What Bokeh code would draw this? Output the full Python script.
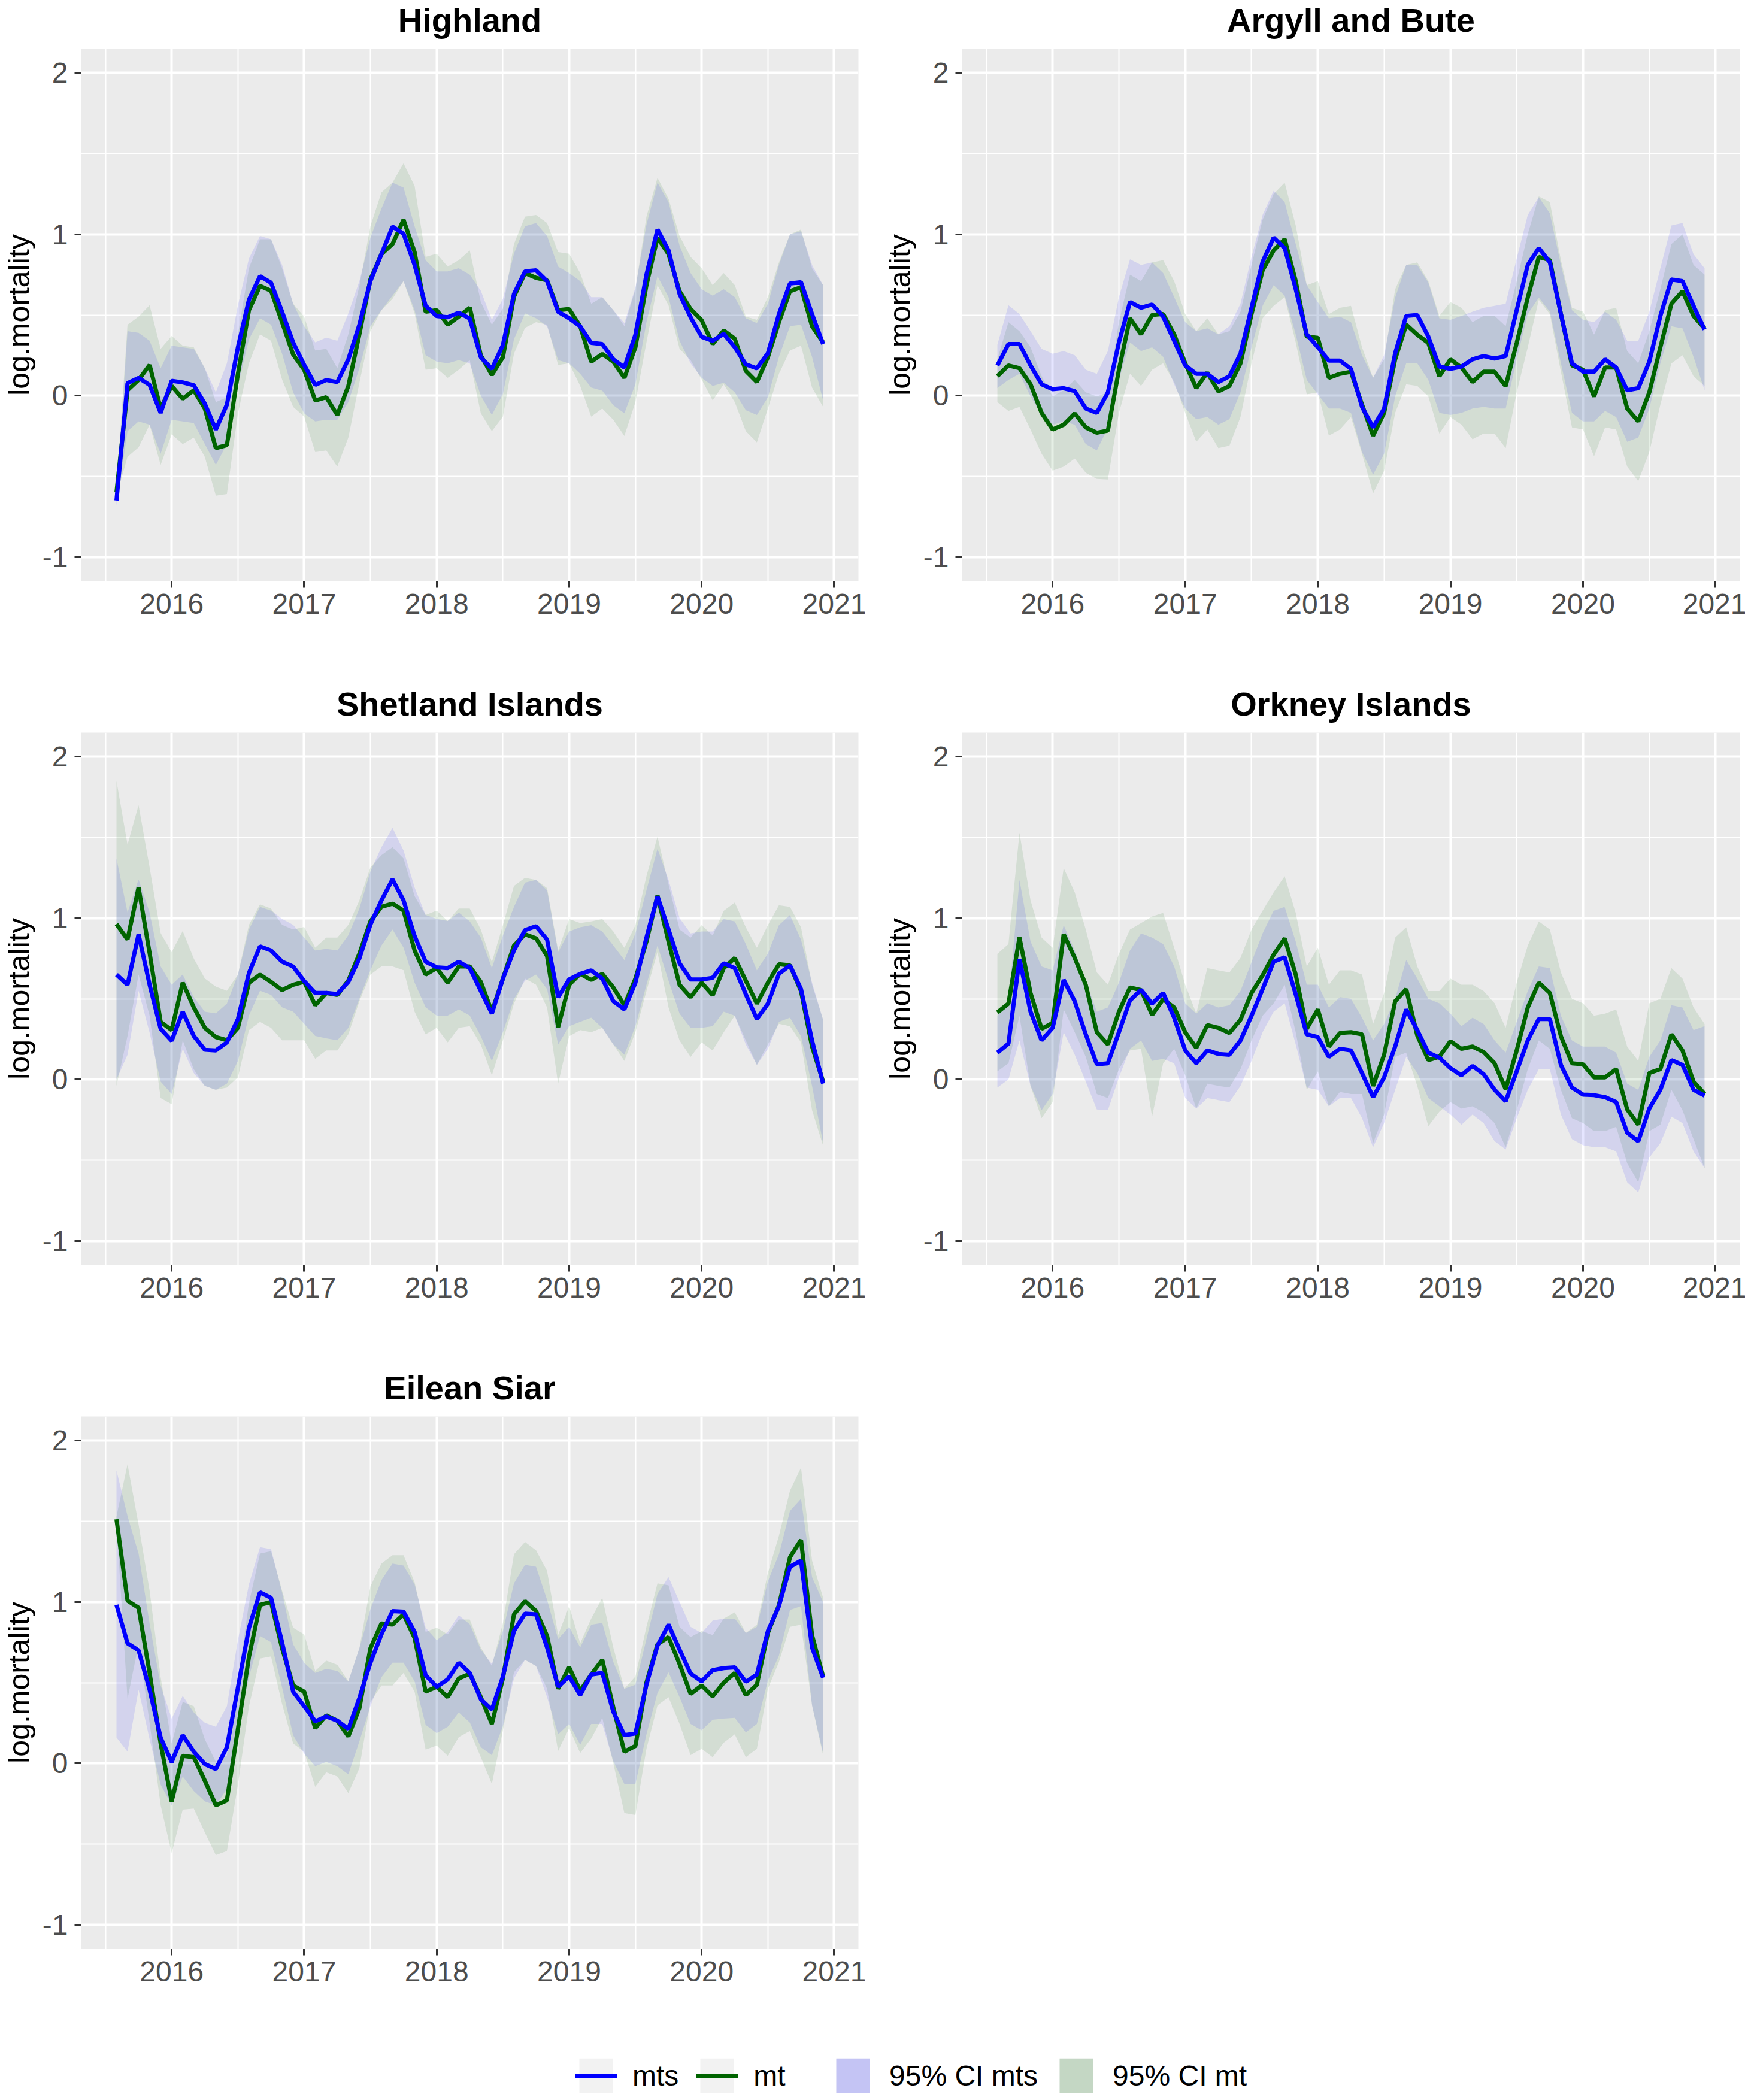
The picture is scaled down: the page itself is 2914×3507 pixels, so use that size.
from bokeh.plotting import figure
from bokeh.models import Range1d, FixedTicker, Legend, LegendItem, ColumnDataSource, Spacer
from bokeh.core.properties import value
from bokeh.layouts import row, column
from bokeh.embed import file_html
from bokeh.resources import INLINE

FONT = "Liberation Sans"

# ---------------- data (monthly, Aug 2015 .. Dec 2020) ----------------
months = ["%d-%02d" % (2015 + (7 + k) // 12, (7 + k) % 12 + 1) for k in range(65)]
x_years = [int(m[:4]) + (int(m[5:]) - 1) / 12.0 for m in months]

regions = ["Highland", "Argyll and Bute", "Shetland Islands", "Orkney Islands", "Eilean Siar"]

highland_mts = [-0.65, 0.077, 0.11, 0.066, -0.107, 0.092, 0.082, 0.064, -0.05, -0.21, -0.056, 0.30, 0.595, 0.74, 0.70, 0.52, 0.33, 0.19, 0.066, 0.097, 0.084, 0.225, 0.44, 0.71, 0.877, 1.048, 1.004, 0.81, 0.557, 0.493, 0.486, 0.514, 0.478, 0.238, 0.166, 0.314, 0.63, 0.77, 0.777, 0.71, 0.52, 0.48, 0.43, 0.327, 0.32, 0.225, 0.174, 0.378, 0.75, 1.03, 0.90, 0.63, 0.486, 0.365, 0.34, 0.383, 0.30, 0.194, 0.169, 0.263, 0.506, 0.695, 0.703, 0.506, 0.32]
highland_mt = [-0.60, 0.033, 0.097, 0.19, -0.08, 0.06, -0.02, 0.033, -0.08, -0.325, -0.307, 0.135, 0.53, 0.68, 0.65, 0.455, 0.255, 0.16, -0.03, -0.01, -0.12, 0.06, 0.38, 0.72, 0.877, 0.94, 1.09, 0.89, 0.52, 0.53, 0.44, 0.49, 0.545, 0.25, 0.128, 0.238, 0.613, 0.76, 0.73, 0.715, 0.53, 0.537, 0.43, 0.21, 0.258, 0.21, 0.11, 0.30, 0.685, 0.98, 0.877, 0.647, 0.537, 0.468, 0.32, 0.404, 0.353, 0.153, 0.084, 0.238, 0.455, 0.647, 0.672, 0.43, 0.33]
highland_mts_hi = [-0.62, 0.40, 0.39, 0.34, 0.17, 0.31, 0.30, 0.29, 0.17, 0.02, 0.20, 0.56, 0.85, 0.99, 0.97, 0.81, 0.57, 0.43, 0.33, 0.36, 0.34, 0.51, 0.71, 0.98, 1.16, 1.32, 1.29, 1.05, 0.84, 0.77, 0.77, 0.79, 0.75, 0.65, 0.47, 0.60, 0.88, 1.05, 1.07, 0.99, 0.80, 0.76, 0.71, 0.61, 0.61, 0.53, 0.45, 0.67, 1.06, 1.32, 1.20, 0.93, 0.76, 0.66, 0.62, 0.66, 0.61, 0.48, 0.45, 0.57, 0.81, 1.00, 1.02, 0.81, 0.685]
highland_mts_lo = [-0.68, -0.22, -0.16, -0.18, -0.36, -0.15, -0.16, -0.17, -0.30, -0.43, -0.30, 0.06, 0.35, 0.48, 0.44, 0.26, 0.02, -0.11, -0.16, -0.15, -0.15, -0.04, 0.17, 0.43, 0.53, 0.62, 0.71, 0.53, 0.25, 0.21, 0.20, 0.22, 0.20, 0.0, -0.12, 0.01, 0.35, 0.51, 0.48, 0.43, 0.22, 0.20, 0.135, 0.05, 0.03, -0.06, -0.11, 0.07, 0.455, 0.74, 0.61, 0.34, 0.20, 0.11, 0.06, 0.08, 0.02, -0.09, -0.12, -0.01, 0.24, 0.43, 0.44, 0.24, -0.03]
highland_mt_hi = [-0.58, 0.44, 0.49, 0.56, 0.29, 0.37, 0.31, 0.30, 0.17, -0.04, -0.01, 0.38, 0.79, 0.97, 0.97, 0.79, 0.57, 0.49, 0.28, 0.29, 0.17, 0.38, 0.68, 1.05, 1.26, 1.32, 1.44, 1.30, 0.86, 0.88, 0.80, 0.84, 0.90, 0.58, 0.44, 0.54, 0.94, 1.11, 1.12, 1.07, 0.89, 0.88, 0.76, 0.57, 0.61, 0.53, 0.43, 0.66, 1.11, 1.35, 1.22, 0.99, 0.86, 0.79, 0.685, 0.76, 0.685, 0.49, 0.47, 0.61, 0.825, 1.00, 1.03, 0.79, 0.685]
highland_mt_lo = [-0.62, -0.38, -0.32, -0.18, -0.43, -0.24, -0.30, -0.26, -0.38, -0.62, -0.61, -0.11, 0.20, 0.38, 0.34, 0.10, -0.07, -0.13, -0.35, -0.34, -0.44, -0.26, 0.08, 0.40, 0.53, 0.60, 0.71, 0.51, 0.16, 0.17, 0.11, 0.16, 0.22, -0.11, -0.22, -0.13, 0.26, 0.42, 0.455, 0.44, 0.19, 0.20, 0.06, -0.13, -0.08, -0.15, -0.25, -0.04, 0.33, 0.685, 0.56, 0.29, 0.22, 0.10, -0.03, 0.07, -0.04, -0.22, -0.29, -0.08, 0.135, 0.28, 0.31, 0.05, -0.07]

argyll_mts = [0.187, 0.32, 0.32, 0.187, 0.07, 0.04, 0.046, 0.028, -0.08, -0.107, 0.02, 0.33, 0.58, 0.545, 0.565, 0.49, 0.34, 0.187, 0.135, 0.135, 0.084, 0.12, 0.26, 0.545, 0.83, 0.98, 0.915, 0.66, 0.38, 0.30, 0.217, 0.217, 0.166, -0.07, -0.197, -0.08, 0.263, 0.494, 0.50, 0.366, 0.18, 0.166, 0.18, 0.225, 0.245, 0.23, 0.245, 0.53, 0.81, 0.915, 0.826, 0.506, 0.20, 0.148, 0.148, 0.225, 0.174, 0.033, 0.046, 0.21, 0.494, 0.72, 0.71, 0.557, 0.41]
argyll_mt = [0.12, 0.187, 0.17, 0.07, -0.107, -0.21, -0.18, -0.11, -0.197, -0.23, -0.217, 0.16, 0.48, 0.38, 0.50, 0.506, 0.38, 0.20, 0.046, 0.143, 0.026, 0.06, 0.20, 0.506, 0.775, 0.90, 0.97, 0.71, 0.366, 0.358, 0.11, 0.135, 0.148, -0.056, -0.248, -0.107, 0.225, 0.44, 0.378, 0.327, 0.12, 0.225, 0.174, 0.084, 0.148, 0.148, 0.059, 0.327, 0.608, 0.86, 0.84, 0.506, 0.187, 0.16, -0.005, 0.174, 0.174, -0.08, -0.16, 0.02, 0.30, 0.57, 0.647, 0.494, 0.417]
argyll_mts_hi = [0.315, 0.56, 0.506, 0.40, 0.29, 0.26, 0.276, 0.25, 0.16, 0.135, 0.276, 0.61, 0.845, 0.81, 0.826, 0.76, 0.61, 0.455, 0.40, 0.417, 0.38, 0.43, 0.57, 0.86, 1.12, 1.27, 1.20, 0.94, 0.685, 0.58, 0.48, 0.49, 0.455, 0.25, 0.11, 0.25, 0.608, 0.81, 0.81, 0.70, 0.48, 0.47, 0.494, 0.52, 0.545, 0.557, 0.57, 0.85, 1.12, 1.23, 1.13, 0.81, 0.53, 0.47, 0.455, 0.52, 0.47, 0.34, 0.34, 0.52, 0.79, 1.055, 1.07, 0.877, 0.79]
argyll_mts_lo = [0.046, 0.097, 0.135, -0.005, -0.12, -0.18, -0.16, -0.18, -0.30, -0.34, -0.20, 0.097, 0.33, 0.276, 0.30, 0.24, 0.07, -0.08, -0.146, -0.133, -0.18, -0.146, 0.02, 0.30, 0.557, 0.685, 0.62, 0.38, 0.097, 0.008, -0.08, -0.08, -0.107, -0.35, -0.49, -0.36, -0.005, 0.20, 0.20, 0.097, -0.107, -0.12, -0.107, -0.08, -0.07, -0.08, -0.08, 0.225, 0.506, 0.608, 0.52, 0.20, -0.107, -0.16, -0.16, -0.095, -0.133, -0.286, -0.26, -0.08, 0.20, 0.43, 0.417, 0.24, 0.033]
argyll_mt_hi = [0.225, 0.455, 0.40, 0.30, 0.12, -0.005, 0.033, 0.097, 0.02, -0.005, 0.02, 0.455, 0.75, 0.71, 0.826, 0.84, 0.71, 0.506, 0.40, 0.48, 0.38, 0.40, 0.52, 0.81, 1.09, 1.25, 1.32, 1.055, 0.685, 0.71, 0.506, 0.545, 0.557, 0.30, 0.11, 0.225, 0.66, 0.81, 0.826, 0.71, 0.494, 0.58, 0.545, 0.455, 0.494, 0.494, 0.43, 0.71, 1.00, 1.235, 1.20, 0.84, 0.545, 0.52, 0.378, 0.53, 0.545, 0.276, 0.20, 0.40, 0.66, 0.94, 1.00, 0.81, 0.75]
argyll_mt_lo = [-0.04, -0.095, -0.07, -0.21, -0.36, -0.465, -0.44, -0.39, -0.478, -0.516, -0.52, -0.107, 0.135, 0.06, 0.16, 0.20, 0.084, -0.107, -0.286, -0.21, -0.325, -0.31, -0.133, 0.20, 0.48, 0.557, 0.61, 0.33, 0.008, 0.02, -0.248, -0.21, -0.133, -0.36, -0.606, -0.465, -0.107, 0.07, 0.06, -0.005, -0.235, -0.133, -0.18, -0.27, -0.235, -0.235, -0.325, 0.02, 0.30, 0.595, 0.506, 0.148, -0.197, -0.21, -0.376, -0.197, -0.21, -0.44, -0.53, -0.35, -0.056, 0.20, 0.25, 0.12, 0.06]

shetland_mts = [0.65, 0.587, 0.90, 0.587, 0.314, 0.24, 0.42, 0.27, 0.184, 0.18, 0.23, 0.375, 0.66, 0.825, 0.80, 0.73, 0.70, 0.61, 0.536, 0.536, 0.53, 0.605, 0.75, 0.96, 1.11, 1.24, 1.11, 0.89, 0.73, 0.695, 0.69, 0.73, 0.69, 0.548, 0.408, 0.625, 0.80, 0.926, 0.95, 0.867, 0.51, 0.62, 0.655, 0.676, 0.625, 0.485, 0.434, 0.60, 0.88, 1.135, 0.93, 0.72, 0.62, 0.62, 0.63, 0.72, 0.69, 0.528, 0.375, 0.47, 0.655, 0.707, 0.56, 0.242, -0.026]
shetland_mt = [0.963, 0.868, 1.19, 0.784, 0.357, 0.306, 0.60, 0.447, 0.32, 0.263, 0.243, 0.32, 0.60, 0.65, 0.605, 0.554, 0.587, 0.605, 0.46, 0.536, 0.524, 0.613, 0.78, 0.98, 1.07, 1.09, 1.047, 0.80, 0.65, 0.69, 0.60, 0.70, 0.70, 0.605, 0.42, 0.625, 0.83, 0.90, 0.875, 0.765, 0.324, 0.587, 0.655, 0.617, 0.655, 0.57, 0.46, 0.625, 0.855, 1.14, 0.855, 0.587, 0.51, 0.60, 0.523, 0.69, 0.753, 0.612, 0.47, 0.60, 0.714, 0.707, 0.548, 0.204, -0.013]
shetland_mts_hi = [1.37, 1.035, 1.24, 1.035, 0.70, 0.587, 0.65, 0.51, 0.42, 0.41, 0.47, 0.65, 0.93, 1.07, 1.047, 0.996, 0.958, 0.88, 0.80, 0.81, 0.80, 0.894, 1.06, 1.29, 1.44, 1.56, 1.42, 1.19, 1.02, 0.996, 0.983, 1.035, 0.98, 0.88, 0.69, 0.893, 1.07, 1.22, 1.237, 1.173, 0.79, 0.918, 0.944, 0.957, 0.918, 0.83, 0.74, 0.906, 1.173, 1.43, 1.237, 1.00, 0.906, 0.918, 0.918, 0.995, 0.98, 0.84, 0.676, 0.78, 0.957, 1.02, 0.867, 0.60, 0.37]
shetland_mts_lo = [0.0, 0.153, 0.55, 0.29, -0.013, -0.09, 0.19, 0.04, -0.04, -0.064, -0.026, 0.115, 0.396, 0.55, 0.524, 0.447, 0.42, 0.345, 0.27, 0.255, 0.243, 0.32, 0.50, 0.677, 0.83, 0.93, 0.817, 0.60, 0.447, 0.396, 0.396, 0.434, 0.396, 0.268, 0.115, 0.293, 0.497, 0.612, 0.65, 0.56, 0.217, 0.33, 0.357, 0.383, 0.32, 0.217, 0.153, 0.33, 0.587, 0.83, 0.612, 0.408, 0.32, 0.32, 0.33, 0.42, 0.395, 0.217, 0.09, 0.19, 0.357, 0.383, 0.268, -0.04, -0.395]
shetland_mt_hi = [1.85, 1.456, 1.70, 1.315, 0.907, 0.79, 0.92, 0.75, 0.626, 0.575, 0.55, 0.65, 0.958, 1.086, 1.06, 0.958, 0.93, 0.945, 0.817, 0.88, 0.88, 0.958, 1.11, 1.315, 1.39, 1.44, 1.37, 1.137, 1.02, 1.047, 0.983, 1.06, 1.06, 0.93, 0.727, 0.957, 1.20, 1.25, 1.237, 1.186, 0.80, 0.995, 0.97, 0.98, 0.995, 0.918, 0.816, 0.957, 1.26, 1.505, 1.21, 0.93, 0.88, 0.957, 0.893, 1.046, 1.097, 0.944, 0.816, 0.957, 1.08, 1.07, 0.944, 0.587, 0.37]
shetland_mt_lo = [-0.04, 0.27, 0.65, 0.396, -0.115, -0.153, 0.243, 0.064, -0.04, -0.064, -0.05, 0.013, 0.306, 0.357, 0.32, 0.243, 0.243, 0.243, 0.128, 0.18, 0.18, 0.28, 0.485, 0.65, 0.70, 0.70, 0.677, 0.42, 0.28, 0.32, 0.23, 0.32, 0.33, 0.217, 0.026, 0.242, 0.47, 0.625, 0.587, 0.446, -0.026, 0.268, 0.306, 0.293, 0.32, 0.217, 0.115, 0.293, 0.548, 0.79, 0.446, 0.242, 0.14, 0.23, 0.18, 0.293, 0.395, 0.242, 0.09, 0.217, 0.345, 0.33, 0.23, -0.19, -0.41]

orkney_mts = [0.166, 0.222, 0.745, 0.42, 0.242, 0.32, 0.617, 0.485, 0.28, 0.094, 0.10, 0.293, 0.49, 0.556, 0.47, 0.536, 0.383, 0.18, 0.10, 0.18, 0.158, 0.153, 0.242, 0.395, 0.56, 0.73, 0.757, 0.528, 0.28, 0.263, 0.14, 0.19, 0.18, 0.04, -0.11, 0.013, 0.204, 0.434, 0.306, 0.166, 0.135, 0.07, 0.026, 0.084, 0.033, -0.064, -0.135, 0.05, 0.242, 0.375, 0.375, 0.09, -0.05, -0.094, -0.097, -0.11, -0.14, -0.33, -0.383, -0.18, -0.064, 0.12, 0.09, -0.064, -0.10]
orkney_mt = [0.416, 0.47, 0.88, 0.536, 0.314, 0.35, 0.90, 0.753, 0.587, 0.293, 0.217, 0.42, 0.57, 0.554, 0.40, 0.497, 0.446, 0.293, 0.196, 0.337, 0.32, 0.288, 0.37, 0.536, 0.645, 0.773, 0.875, 0.65, 0.314, 0.434, 0.204, 0.288, 0.293, 0.28, -0.04, 0.153, 0.485, 0.56, 0.273, 0.12, 0.14, 0.237, 0.19, 0.204, 0.17, 0.10, -0.06, 0.18, 0.446, 0.60, 0.536, 0.268, 0.10, 0.094, 0.013, 0.013, 0.064, -0.186, -0.28, 0.04, 0.064, 0.28, 0.18, -0.013, -0.09]
orkney_mts_hi = [0.395, 0.472, 1.237, 0.855, 0.70, 0.676, 0.957, 0.80, 0.612, 0.42, 0.446, 0.60, 0.80, 0.906, 0.88, 0.84, 0.70, 0.472, 0.408, 0.472, 0.446, 0.46, 0.548, 0.727, 0.906, 1.046, 1.07, 0.855, 0.587, 0.587, 0.446, 0.51, 0.50, 0.383, 0.242, 0.344, 0.50, 0.74, 0.625, 0.50, 0.472, 0.408, 0.33, 0.383, 0.344, 0.242, 0.166, 0.357, 0.548, 0.70, 0.69, 0.395, 0.242, 0.204, 0.204, 0.204, 0.166, -0.026, -0.064, 0.14, 0.242, 0.46, 0.446, 0.306, 0.33]
orkney_mts_lo = [-0.05, 0.0, 0.242, -0.04, -0.19, -0.09, 0.293, 0.153, -0.013, -0.186, -0.19, 0.013, 0.19, 0.242, 0.115, 0.128, 0.10, -0.115, -0.18, -0.115, -0.128, -0.14, -0.04, 0.115, 0.293, 0.42, 0.472, 0.217, -0.05, -0.064, -0.166, -0.115, -0.115, -0.24, -0.42, -0.27, -0.064, 0.14, 0.04, -0.115, -0.166, -0.217, -0.28, -0.217, -0.27, -0.383, -0.434, -0.24, -0.064, 0.064, 0.064, -0.217, -0.37, -0.408, -0.42, -0.42, -0.446, -0.638, -0.70, -0.485, -0.395, -0.23, -0.27, -0.446, -0.55]
orkney_mt_hi = [0.778, 0.84, 1.53, 1.11, 0.88, 0.816, 1.31, 1.16, 0.93, 0.663, 0.587, 0.778, 0.93, 0.97, 1.01, 1.033, 0.816, 0.587, 0.408, 0.69, 0.676, 0.663, 0.753, 0.93, 1.046, 1.16, 1.26, 1.033, 0.70, 0.816, 0.587, 0.676, 0.676, 0.65, 0.344, 0.536, 0.88, 0.944, 0.70, 0.548, 0.548, 0.625, 0.587, 0.587, 0.548, 0.472, 0.32, 0.60, 0.83, 0.98, 0.93, 0.663, 0.50, 0.472, 0.395, 0.408, 0.434, 0.204, 0.115, 0.472, 0.50, 0.69, 0.625, 0.446, 0.344]
orkney_mt_lo = [0.05, 0.10, 0.395, -0.04, -0.24, -0.14, 0.434, 0.293, 0.14, -0.09, -0.115, 0.064, 0.18, 0.19, -0.23, 0.10, 0.19, 0.026, -0.18, -0.026, -0.04, -0.05, 0.064, 0.242, 0.395, 0.472, 0.587, 0.293, -0.064, 0.05, -0.166, -0.077, -0.09, -0.09, -0.395, -0.217, 0.14, 0.166, -0.04, -0.29, -0.20, -0.14, -0.18, -0.166, -0.204, -0.27, -0.42, -0.19, 0.064, 0.242, 0.19, -0.064, -0.24, -0.27, -0.32, -0.32, -0.293, -0.52, -0.638, -0.32, -0.28, -0.064, -0.19, -0.37, -0.55]

eilean_mts = [0.982, 0.744, 0.70, 0.456, 0.16, 0.008, 0.174, 0.072, -0.005, -0.036, 0.10, 0.47, 0.84, 1.06, 1.026, 0.75, 0.444, 0.354, 0.26, 0.29, 0.264, 0.213, 0.405, 0.623, 0.80, 0.944, 0.94, 0.815, 0.546, 0.474, 0.52, 0.623, 0.56, 0.397, 0.333, 0.538, 0.82, 0.928, 0.923, 0.718, 0.474, 0.538, 0.423, 0.55, 0.56, 0.32, 0.174, 0.185, 0.487, 0.73, 0.86, 0.705, 0.556, 0.508, 0.577, 0.59, 0.595, 0.505, 0.55, 0.82, 0.974, 1.218, 1.256, 0.718, 0.53]
eilean_mt = [1.513, 1.008, 0.964, 0.56, 0.123, -0.236, 0.046, 0.038, -0.108, -0.26, -0.23, 0.213, 0.66, 0.982, 1.00, 0.713, 0.482, 0.444, 0.218, 0.297, 0.264, 0.167, 0.341, 0.713, 0.867, 0.86, 0.923, 0.777, 0.444, 0.474, 0.41, 0.526, 0.555, 0.41, 0.244, 0.526, 0.923, 1.005, 0.944, 0.79, 0.462, 0.595, 0.449, 0.55, 0.641, 0.346, 0.072, 0.108, 0.50, 0.738, 0.782, 0.615, 0.43, 0.482, 0.415, 0.50, 0.56, 0.423, 0.487, 0.808, 0.98, 1.277, 1.385, 0.795, 0.538]
eilean_mts_hi = [1.815, 1.533, 1.30, 0.867, 0.482, 0.277, 0.418, 0.315, 0.251, 0.226, 0.354, 0.764, 1.11, 1.34, 1.328, 1.06, 0.738, 0.623, 0.56, 0.585, 0.572, 0.508, 0.713, 0.956, 1.136, 1.238, 1.226, 1.11, 0.841, 0.764, 0.815, 0.918, 0.862, 0.705, 0.615, 0.82, 1.115, 1.23, 1.218, 1.013, 0.77, 0.846, 0.718, 0.859, 0.87, 0.628, 0.462, 0.487, 0.77, 1.05, 1.154, 1.00, 0.846, 0.808, 0.885, 0.897, 0.897, 0.808, 0.846, 1.128, 1.295, 1.564, 1.64, 1.154, 1.00]
eilean_mts_lo = [0.16, 0.072, 0.456, 0.149, -0.133, -0.26, -0.082, -0.172, -0.236, -0.26, -0.159, 0.20, 0.533, 0.79, 0.751, 0.47, 0.174, 0.059, -0.018, 0.008, -0.018, -0.069, 0.136, 0.354, 0.533, 0.623, 0.623, 0.508, 0.238, 0.187, 0.226, 0.315, 0.253, 0.10, 0.05, 0.23, 0.526, 0.641, 0.603, 0.41, 0.18, 0.244, 0.115, 0.244, 0.244, 0.013, -0.128, -0.128, 0.18, 0.436, 0.564, 0.41, 0.244, 0.205, 0.27, 0.277, 0.282, 0.192, 0.244, 0.513, 0.667, 0.95, 0.974, 0.359, 0.064]
eilean_mt_hi = [1.53, 1.854, 1.48, 1.07, 0.533, 0.123, 0.38, 0.354, 0.149, 0.008, 0.046, 0.508, 0.995, 1.30, 1.315, 1.07, 0.841, 0.80, 0.572, 0.636, 0.61, 0.508, 0.713, 1.097, 1.238, 1.29, 1.29, 1.123, 0.815, 0.841, 0.80, 0.892, 0.892, 0.718, 0.603, 0.87, 1.295, 1.372, 1.32, 1.192, 0.795, 0.974, 0.744, 0.897, 1.026, 0.718, 0.462, 0.538, 0.846, 1.115, 1.103, 0.846, 0.782, 0.82, 0.795, 0.897, 0.936, 0.808, 0.859, 1.18, 1.41, 1.69, 1.833, 1.256, 1.026]
eilean_mt_lo = [1.49, 0.40, 0.738, 0.251, -0.26, -0.556, -0.287, -0.28, -0.428, -0.569, -0.544, -0.133, 0.354, 0.649, 0.662, 0.367, 0.123, 0.072, -0.146, -0.056, -0.082, -0.185, -0.03, 0.38, 0.482, 0.482, 0.56, 0.444, 0.085, 0.11, 0.046, 0.162, 0.20, 0.038, -0.128, 0.205, 0.564, 0.641, 0.603, 0.462, 0.077, 0.218, 0.064, 0.154, 0.282, 0.0, -0.308, -0.32, 0.09, 0.359, 0.41, 0.244, 0.051, 0.09, 0.038, 0.128, 0.18, 0.038, 0.09, 0.462, 0.628, 0.846, 0.859, 0.359, 0.051]

year_ticks = [2016, 2017, 2018, 2019, 2020, 2021]
year_minor = [2015.5, 2016.5, 2017.5, 2018.5, 2019.5, 2020.5]
y_ticks = [-1, 0, 1, 2]
y_minor = [-0.5, 0.5, 1.5]
y_tick_labels = {-1: "-1", 0: "0", 1: "1", 2: "2"}

series = {
    "Highland": (highland_mts, highland_mt, highland_mts_lo, highland_mts_hi, highland_mt_lo, highland_mt_hi),
    "Argyll and Bute": (argyll_mts, argyll_mt, argyll_mts_lo, argyll_mts_hi, argyll_mt_lo, argyll_mt_hi),
    "Shetland Islands": (shetland_mts, shetland_mt, shetland_mts_lo, shetland_mts_hi, shetland_mt_lo, shetland_mt_hi),
    "Orkney Islands": (orkney_mts, orkney_mt, orkney_mts_lo, orkney_mts_hi, orkney_mt_lo, orkney_mt_hi),
    "Eilean Siar": (eilean_mts, eilean_mt, eilean_mts_lo, eilean_mts_hi, eilean_mt_lo, eilean_mt_hi),
}

BLUE = "#0000FF"
GREEN = "#006400"
LW = 7

xspan = x_years[-1] - x_years[0]
X0, X1 = x_years[0] - 0.05 * xspan, x_years[-1] + 0.05 * xspan
Y0, Y1 = -1 - 0.15, 2 + 0.15

STRIP_H = 81      # title strip: all the space above each panel
COLS = [dict(frame_w=1298, left=132, right=30), dict(frame_w=1299, left=143, right=11)]


def make_title(name, col):
    c = COLS[col]
    t = figure(frame_width=c["frame_w"], frame_height=STRIP_H, min_border_left=c["left"],
               min_border_right=c["right"], min_border_top=0, min_border_bottom=0,
               x_range=Range1d(0, 1), y_range=Range1d(0, 1), x_axis_type=None, y_axis_type=None,
               toolbar_location=None, output_backend="svg", outline_line_color=None)
    t.text(x=[0.5], y=[0.59], text=[name], text_align="center", text_baseline="middle",
           text_font=value(FONT), text_font_size=value("56px"), text_font_style="bold",
           text_color="black")
    return t


def make_panel(name, col, bottom):
    c = COLS[col]
    mts, mt, mts_lo, mts_hi, mt_lo, mt_hi = series[name]
    src = ColumnDataSource(dict(x=x_years, mts=mts, mt=mt, mts_lo=mts_lo, mts_hi=mts_hi,
                                mt_lo=mt_lo, mt_hi=mt_hi))
    p = figure(frame_width=c["frame_w"], frame_height=889,
               x_range=Range1d(X0, X1), y_range=Range1d(Y0, Y1),
               output_backend="svg", toolbar_location=None,
               min_border_left=c["left"], min_border_right=c["right"],
               min_border_top=0, min_border_bottom=bottom,
               background_fill_color="#EBEBEB", border_fill_color="white",
               outline_line_color=None)
    p.varea(x="x", y1="mt_lo", y2="mt_hi", source=src, fill_color=GREEN, fill_alpha=0.1)
    p.varea(x="x", y1="mts_lo", y2="mts_hi", source=src, fill_color=BLUE, fill_alpha=0.1)
    p.line("x", "mt", source=src, line_color=GREEN, line_width=LW)
    p.line("x", "mts", source=src, line_color=BLUE, line_width=LW)

    p.xaxis.ticker = FixedTicker(ticks=year_ticks, minor_ticks=year_minor)
    p.yaxis.ticker = FixedTicker(ticks=y_ticks, minor_ticks=y_minor)
    p.yaxis.major_label_overrides = y_tick_labels
    for ax in p.axis:
        ax.axis_line_color = None
        ax.major_tick_line_color = "#333333"
        ax.major_tick_line_width = 3
        ax.major_tick_out = 11
        ax.major_tick_in = 0
        ax.minor_tick_line_color = None
        ax.major_label_text_font = FONT
        ax.major_label_text_font_size = "48px"
        ax.major_label_text_color = "#4D4D4D"
    p.xaxis.major_label_standoff = 10
    p.yaxis.major_label_standoff = 11
    p.yaxis.axis_label = "log.mortality"
    p.yaxis.axis_label_text_font = FONT
    p.yaxis.axis_label_text_font_size = "50px"
    p.yaxis.axis_label_text_font_style = "normal"
    p.yaxis.axis_label_text_color = "black"
    p.yaxis.axis_label_standoff = 8

    for g in (p.xgrid, p.ygrid):
        g.grid_line_color = "white"
        g.grid_line_width = 4
        g.minor_grid_line_color = "white"
        g.minor_grid_line_width = 2
    return p


def cell(name, col, bottom):
    return column(make_title(name, col), make_panel(name, col, bottom), spacing=0)


row1 = row(cell("Highland", 0, 172), cell("Argyll and Bute", 1, 172))
row2 = row(cell("Shetland Islands", 0, 172), cell("Orkney Islands", 1, 172))
row3 = row(cell("Eilean Siar", 0, 100), Spacer(width=1453, height=STRIP_H + 889 + 100))

# ---------------- legend ----------------
leg = figure(width=2913, height=152, min_border=0, x_range=Range1d(0, 1), y_range=Range1d(0, 1),
             x_axis_type=None, y_axis_type=None, toolbar_location=None, output_backend="svg",
             outline_line_color=None)
off = [-5.0, -4.0]
bg = leg.quad(left=[-5.0], right=[-4.0], top=[-4.0], bottom=[-5.0], fill_color="#F2F2F2", line_color=None)
ln_b = leg.line(x=off, y=off, line_color=BLUE, line_width=LW)
ln_g = leg.line(x=off, y=off, line_color=GREEN, line_width=LW)
ar_b = leg.varea(x=off, y1=[-5.0, -5.0], y2=[-4.0, -4.0], fill_color=BLUE, fill_alpha=0.19)
ar_g = leg.varea(x=off, y1=[-5.0, -5.0], y2=[-4.0, -4.0], fill_color=GREEN, fill_alpha=0.19)

legend_kw = dict(orientation="horizontal", glyph_width=70, glyph_height=72, label_standoff=26,
                 spacing=29, padding=0, margin=0, border_line_color=None, background_fill_alpha=0,
                 label_text_font=FONT, label_text_font_size="48px", label_text_color="black")
leg1 = Legend(items=[LegendItem(label="mts", renderers=[bg, ln_b]),
                     LegendItem(label="mt", renderers=[bg, ln_g])],
              location=(960, 4), **legend_kw)
leg2 = Legend(items=[LegendItem(label="95% CI mts", renderers=[bg, ar_b]),
                     LegendItem(label="95% CI mt", renderers=[bg, ar_g])],
              location=(1389, 4), **legend_kw)
leg.add_layout(leg1)
leg.add_layout(leg2)

layout = column(row1, row2, row3, leg, spacing=0)

open("out.html", "w").write(file_html(layout, INLINE))
